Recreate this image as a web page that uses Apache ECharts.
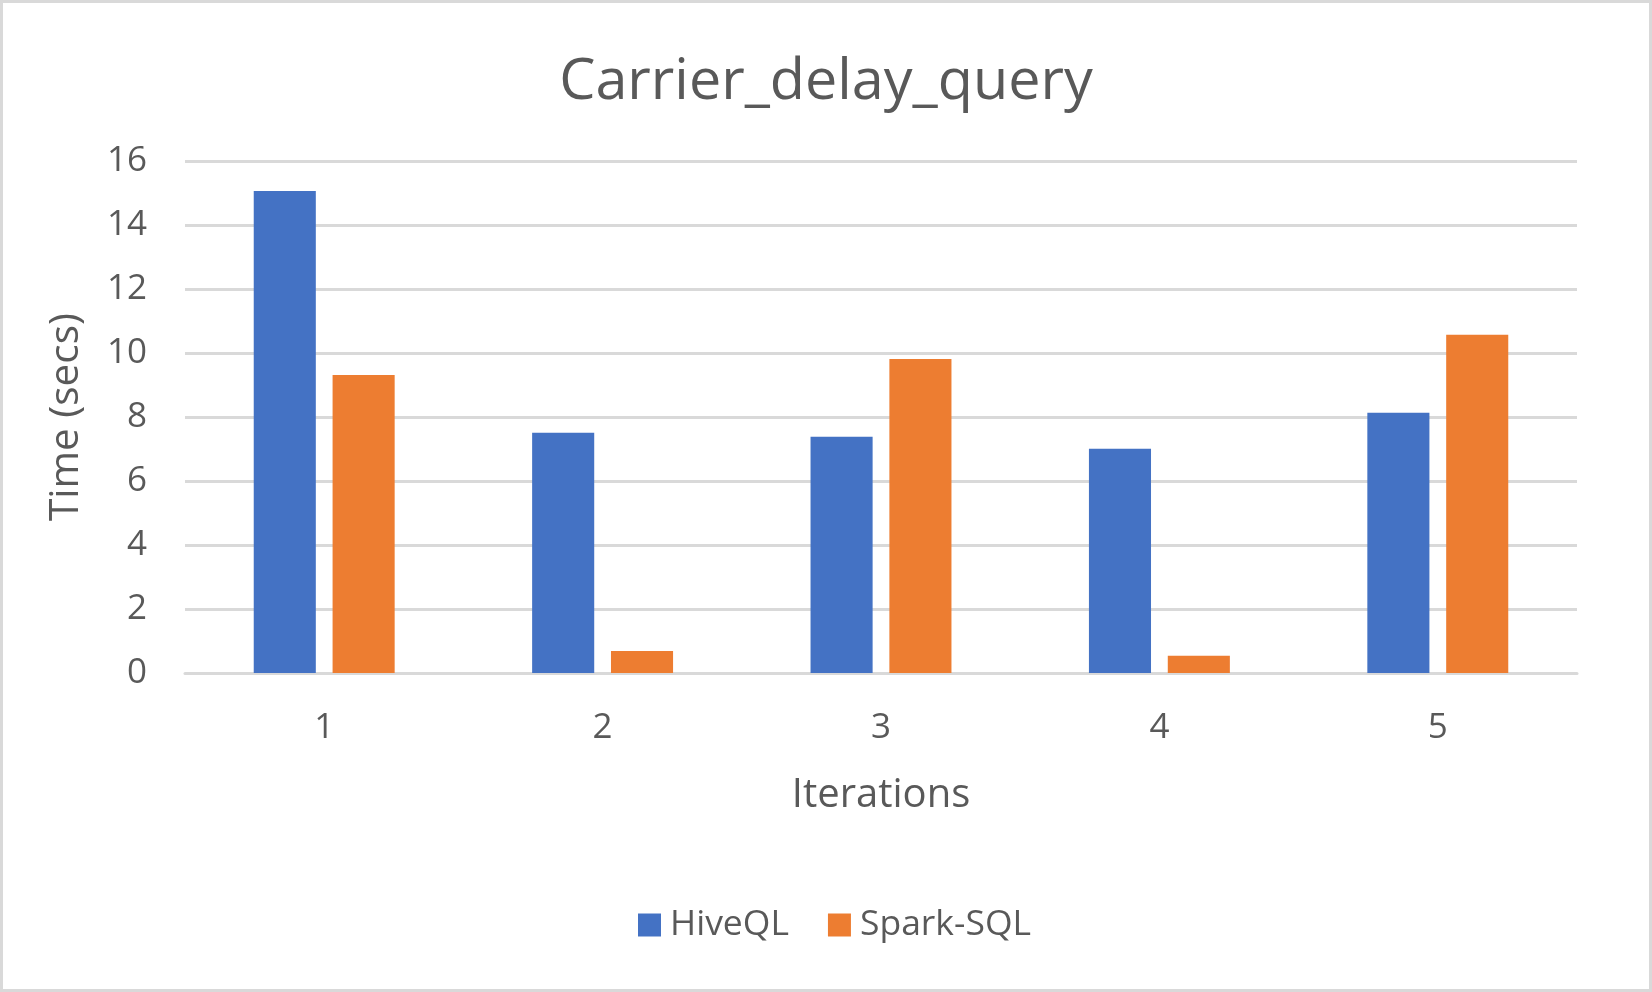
<!DOCTYPE html>
<html>
<head>
<meta charset="utf-8">
<script src="https://cdn.jsdelivr.net/npm/echarts@6/dist/echarts.min.js"></script>
<style>
html,body{margin:0;padding:0;background:#fff;}
#c{width:1652px;height:992px;box-sizing:border-box;border:3px solid #d9d9d9;}
</style>
</head>
<body>
<div id="c"></div>
<script>
const categories = ['1', '2', '3', '4', '5'];
const hiveQL = [15.06, 7.51, 7.38, 7.01, 8.13];
const sparkSQL = [9.31, 0.69, 9.81, 0.54, 10.57];
const yTicks = { min: 0, max: 16, interval: 2 };

const font = '"Open Sans", "Noto Sans", sans-serif';
const txt = '#595959';
const chart = echarts.init(document.getElementById('c'));
chart.setOption({
  animation: false,
  title: {
    text: 'Carrier_delay_query',
    left: 'center',
    top: 46,
    textStyle: { fontFamily: font, fontSize: 57.5, fontWeight: 'normal', color: txt }
  },
  legend: {
    data: ['HiveQL', 'Spark-SQL'],
    left: 630,
    top: 899,
    itemWidth: 23,
    itemHeight: 23,
    itemGap: 39,
    icon: 'rect',
    textStyle: { fontFamily: font, fontSize: 35.5, color: txt, padding: [0, 0, 0, 4] }
  },
  grid: { left: 182, right: 72, top: 158, bottom: 316, containLabel: false },
  xAxis: {
    type: 'category',
    data: categories,
    name: 'Iterations',
    nameLocation: 'middle',
    nameGap: 103,
    nameTextStyle: { fontFamily: font, fontSize: 40, color: txt },
    axisLine: { lineStyle: { color: '#d9d9d9', width: 3 } },
    axisTick: { show: false },
    axisLabel: { fontFamily: font, fontSize: 35, color: txt, margin: 38 }
  },
  yAxis: {
    type: 'value',
    min: yTicks.min, max: yTicks.max, interval: yTicks.interval,
    name: 'Time (secs)',
    nameLocation: 'middle',
    nameGap: 98,
    nameTextStyle: { fontFamily: font, fontSize: 40.5, color: txt },
    axisLine: { show: false },
    axisTick: { show: false },
    splitLine: { lineStyle: { color: '#d9d9d9', width: 3 } },
    axisLabel: { fontFamily: font, fontSize: 35, color: txt, margin: 38 }
  },
  series: [
    { name: 'HiveQL', type: 'bar', data: hiveQL, barWidth: '22.3%', barGap: '27%', itemStyle: { color: '#4472C4' } },
    { name: 'Spark-SQL', type: 'bar', data: sparkSQL, barWidth: '22.3%', barGap: '27%', itemStyle: { color: '#ED7D31' } }
  ]
});
</script>
</body>
</html>
